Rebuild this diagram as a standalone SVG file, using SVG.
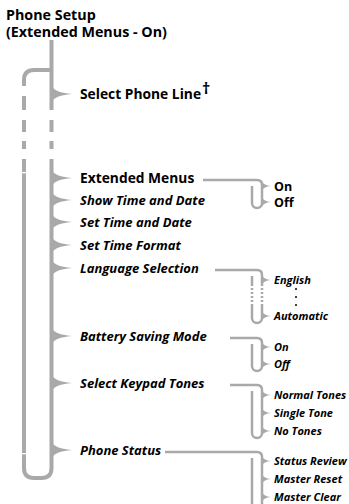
<svg xmlns="http://www.w3.org/2000/svg" width="349" height="504" viewBox="0 0 349 504">
<style>
.ln{fill:none;stroke:#a9a9a9;stroke-width:4}
.bl{fill:none;stroke:#a9a9a9;stroke-width:2.5}
.dl{fill:none;stroke:#a9a9a9;stroke-width:2.5;stroke-dasharray:2 2}
.tip{fill:#a9a9a9}
.gap{fill:#fff}
.t{font-family:"Open Sans","Noto Sans",sans-serif;font-weight:bold;fill:#000}
.h{font-size:14.3px}
.m{font-size:13.8px}
.i{font-size:13px;font-style:italic}
.o{font-size:12.5px}
.oi{font-size:11px;font-style:italic}
</style>
<defs>
<path id="bump" d="M50,-11 Q53,-1.2 72,0 Q53,1.2 50,11 Z"/>
<path id="stip" d="M262,-5 Q263,-0.8 271,0 Q263,0.8 262,5 Z"/>
</defs>
<g id="title">
<text class="t h" x="6" y="19.5">Phone Setup</text>
<text class="t h" x="6" y="37">(Extended Menus - On)</text>
</g>
<g id="connectors">
<path class="ln" d="M51.5,40 V110"/>
<path class="ln" d="M51.5,120 V132 M51.5,141 V149 M24,96 V110 M24,120 V132 M24,141 V149"/>
<path class="ln" d="M24,86 V80 Q24,70 34,70 H51.5"/>
<path class="ln" d="M51.5,159 V468 Q51.5,478 41.5,478 H34 Q24,478 24,468 V159"/>
<rect class="gap" x="21" y="172" width="6" height="1.3"/>
<rect class="gap" x="21" y="453" width="6" height="1.3"/>
<g class="tip">
<use href="#bump" y="94"/>
<use href="#bump" y="178"/>
<use href="#bump" y="200"/>
<use href="#bump" y="222"/>
<use href="#bump" y="245"/>
<use href="#bump" y="268"/>
<use href="#bump" y="336"/>
<use href="#bump" y="383"/>
<use href="#bump" y="450"/>
</g>
<path class="bl" d="M203,180 H257 Q262,180 262,185 V203 A5,5 0 0 1 252,203 V186"/>
<path class="bl" d="M215,270 H257 Q262,270 262,275 V284 M262,306 V318 A5,5 0 0 1 252,318 V306 M252,284 V276"/>
<path class="dl" d="M262,284 V306 M252,284 V306"/>
<path class="bl" d="M230,338 H257 Q262,338 262,343 V366 A5,5 0 0 1 252,366 V344"/>
<path class="bl" d="M230,385 H257 Q262,385 262,390 V433 A5,5 0 0 1 252,433 V391"/>
<path class="bl" d="M165,452 H257 Q262,452 262,457 V504 M252,458 V504"/>
<g class="tip">
<use href="#stip" y="186"/>
<use href="#stip" y="202"/>
<use href="#stip" y="280"/>
<use href="#stip" y="316"/>
<use href="#stip" y="347"/>
<use href="#stip" y="364"/>
<use href="#stip" y="395"/>
<use href="#stip" y="413"/>
<use href="#stip" y="431"/>
<use href="#stip" y="461"/>
<use href="#stip" y="479"/>
<use href="#stip" y="497"/>
</g>
</g>
<g id="n-select-line"><text class="t m" x="80" y="99">Select Phone Line<tspan dx="1" dy="-5" font-size="16">†</tspan></text></g>
<g id="n-extended"><text class="t m" x="80" y="183">Extended Menus</text></g>
<g id="n-show-time"><text class="t i" x="80" y="204.5">Show Time and Date</text></g>
<g id="n-set-time"><text class="t i" x="80" y="226.5">Set Time and Date</text></g>
<g id="n-time-format"><text class="t i" x="80" y="249.5">Set Time Format</text></g>
<g id="n-language"><text class="t i" x="80" y="272.5">Language Selection</text></g>
<g id="n-battery"><text class="t i" x="80" y="340.5">Battery Saving Mode</text></g>
<g id="n-keypad"><text class="t i" x="80" y="387.5">Select Keypad Tones</text></g>
<g id="n-status"><text class="t i" x="80" y="454.5">Phone Status</text></g>
<g id="o-ext-on"><text class="t o" x="274" y="190.5">On</text></g>
<g id="o-ext-off"><text class="t o" x="274" y="206.5">Off</text></g>
<g id="o-english"><text class="t oi" x="274" y="284">English</text></g>
<g id="o-dots" fill="#000"><circle cx="296" cy="289" r="1"/><circle cx="296" cy="297" r="1"/><circle cx="296" cy="305" r="1"/></g>
<g id="o-automatic"><text class="t oi" x="274" y="320">Automatic</text></g>
<g id="o-bat-on"><text class="t oi" x="274" y="351">On</text></g>
<g id="o-bat-off"><text class="t oi" x="274" y="368">Off</text></g>
<g id="o-normal"><text class="t oi" x="274" y="399">Normal Tones</text></g>
<g id="o-single"><text class="t oi" x="274" y="417">Single Tone</text></g>
<g id="o-none"><text class="t oi" x="274" y="435">No Tones</text></g>
<g id="o-review"><text class="t oi" x="274" y="465">Status Review</text></g>
<g id="o-reset"><text class="t oi" x="274" y="483">Master Reset</text></g>
<g id="o-clear"><text class="t oi" x="274" y="501">Master Clear</text></g>
</svg>
